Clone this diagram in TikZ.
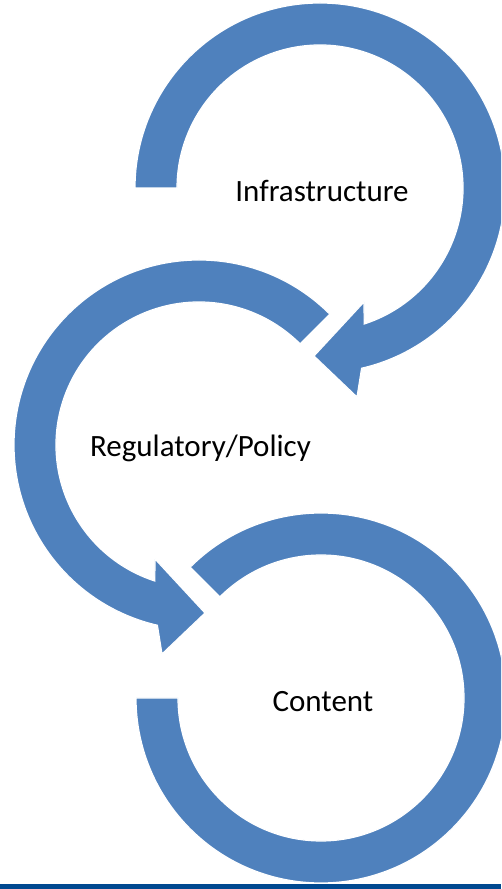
\documentclass[tikz,border=0pt]{standalone}
\usepackage{fontspec}
\setmainfont{Carlito}
\begin{document}
\begin{tikzpicture}[x=1pt, y=1pt]
        % ----------- shared parameters -----------
        \def\Ro{185}       % outer radius
        \def\Ri{143}       % inner radius
        \definecolor{ring}{RGB}{79,129,189}
        \definecolor{footer}{RGB}{0,73,144}
        \tikzset{
            ringarrow/.style={fill=ring, draw=white, line width=1.2pt, line join=miter},
            ringtext/.style={anchor=base, inner sep=0pt, font=\fontsize{31}{37}\selectfont}
        }

        \useasboundingbox (0,0) rectangle (501,889);
        \clip (0,0) rectangle (501,889);

        % footer bar
        \fill[footer] (0,0) rectangle (501,5);

        % ring centres
        \coordinate (infra) at (320,701);
        \coordinate (regul) at (199,444);
        \coordinate (cont)  at (321,191);

        % =====================================
        %          top ring: Infrastructure
        % =====================================
        \draw[ringarrow, shift={(infra)}] (180:\Ro) arc[start angle=180, end angle=-77, radius=\Ro]
            -- (37,-209) -- (-6,-168) -- (44,-114)
            -- (-72:\Ri) arc[start angle=-72, end angle=180, radius=\Ri] -- cycle;
        \node[ringtext] (infratext) at (322,687) {Infrastructure};

        % =====================================
        %        middle ring: Regulatory/Policy
        % =====================================
        \draw[ringarrow, shift={(regul)}] (45:\Ro) arc[start angle=45, end angle=257, radius=\Ro]
            -- (-37,-209) -- (6,-168) -- (-44,-114)
            -- (252:\Ri) arc[start angle=252, end angle=45, radius=\Ri] -- cycle;
        \node[ringtext] (regultext) at (200.5,432) {Regulatory/Policy};

        % =====================================
        %          bottom ring: Content
        % =====================================
        \draw[ringarrow, shift={(cont)}] (135:\Ro) arc[start angle=135, end angle=-180, radius=\Ro]
            -- (180:\Ri) arc[start angle=-180, end angle=135, radius=\Ri] -- cycle;
        \node[ringtext] (conttext) at (323,177) {Content};

\end{tikzpicture}
\end{document}
